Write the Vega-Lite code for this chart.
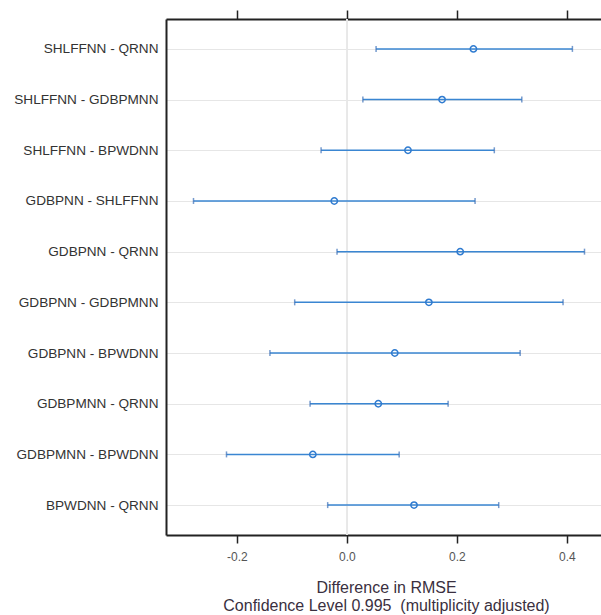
{
  "$schema": "https://vega.github.io/schema/vega-lite/v6.json",
  "autosize": "none",
  "width": 435,
  "height": 516,
  "padding": {"left": 166, "top": 19, "right": 0, "bottom": 80},
  "background": "white",
  "config": {
    "view": {"stroke": null},
    "font": "Liberation Sans",
    "axis": {"labelFont": "Liberation Sans", "titleFont": "Liberation Sans"}
  },
  "data": {
    "values": [
      {"pair": "SHLFFNN - QRNN", "lo": 0.053, "est": 0.230, "hi": 0.410},
      {"pair": "SHLFFNN - GDBPMNN", "lo": 0.029, "est": 0.173, "hi": 0.318},
      {"pair": "SHLFFNN - BPWDNN", "lo": -0.047, "est": 0.111, "hi": 0.268},
      {"pair": "GDBPNN - SHLFFNN", "lo": -0.279, "est": -0.023, "hi": 0.233},
      {"pair": "GDBPNN - QRNN", "lo": -0.018, "est": 0.206, "hi": 0.432},
      {"pair": "GDBPNN - GDBPMNN", "lo": -0.095, "est": 0.149, "hi": 0.393},
      {"pair": "GDBPNN - BPWDNN", "lo": -0.140, "est": 0.087, "hi": 0.315},
      {"pair": "GDBPMNN - QRNN", "lo": -0.067, "est": 0.057, "hi": 0.184},
      {"pair": "GDBPMNN - BPWDNN", "lo": -0.219, "est": -0.062, "hi": 0.095},
      {"pair": "BPWDNN - QRNN", "lo": -0.035, "est": 0.122, "hi": 0.276}
    ]
  },
  "layer": [
    {
      "mark": {"type": "rule", "color": "#e8e8e8", "strokeWidth": 1},
      "encoding": {
        "x": {
          "datum": 0,
          "type": "quantitative",
          "scale": {"domain": [-0.329, 0.462], "nice": false, "zero": false},
          "axis": {
            "orient": "bottom",
            "values": [-0.2, 0, 0.2, 0.4],
            "format": ".1f",
            "labelExpr": "replace(datum.label, '\u2212', '-')",
            "grid": false,
            "domain": true,
            "domainColor": "#222",
            "domainWidth": 2,
            "ticks": true,
            "tickColor": "#222",
            "tickWidth": 1.5,
            "tickSize": 8,
            "labelColor": "#555",
            "labelFontSize": 12,
            "labelPadding": 8,
            "title": ["Difference in RMSE", "Confidence Level 0.995\u00a0 (multiplicity adjusted)"],
            "titleFontSize": 16,
            "titleFontWeight": "normal",
            "titleColor": "#3a3040",
            "titleLineHeight": 18,
            "titlePadding": 17,
            "titleX": 220
          }
        }
      }
    },
    {
      "mark": {"type": "rule", "color": "#3a86d2", "strokeWidth": 1.5},
      "encoding": {
        "y": {
          "field": "pair",
          "type": "ordinal",
          "sort": null,
          "scale": {"type": "point", "padding": 0.59},
          "axis": {
            "title": null,
            "grid": true,
            "gridColor": "#e6e6e6",
            "gridWidth": 1,
            "domain": true,
            "domainColor": "#222",
            "domainWidth": 2,
            "ticks": false,
            "labelColor": "#333",
            "labelFontSize": 13.6,
            "labelPadding": 8
          }
        },
        "x": {
          "field": "lo",
          "type": "quantitative",
          "axis": {
            "orient": "top",
            "values": [-0.2, 0, 0.2, 0.4],
            "grid": false,
            "labels": false,
            "title": null,
            "domain": true,
            "domainColor": "#222",
            "domainWidth": 2,
            "ticks": true,
            "tickColor": "#222",
            "tickWidth": 1.5,
            "tickSize": 9
          }
        },
        "x2": {"field": "hi"}
      }
    },
    {
      "mark": {"type": "tick", "color": "#3a6fb8", "size": 6, "thickness": 1.5, "orient": "vertical"},
      "encoding": {
        "y": {"field": "pair", "type": "ordinal", "sort": null},
        "x": {"field": "lo", "type": "quantitative", "axis": null}
      }
    },
    {
      "mark": {"type": "tick", "color": "#3a6fb8", "size": 6, "thickness": 1.5, "orient": "vertical"},
      "encoding": {
        "y": {"field": "pair", "type": "ordinal", "sort": null},
        "x": {"field": "hi", "type": "quantitative", "axis": null}
      }
    },
    {
      "mark": {"type": "point", "shape": "circle", "filled": false, "color": "#2f7bd0", "strokeWidth": 1.5, "size": 40, "opacity": 1},
      "encoding": {
        "y": {"field": "pair", "type": "ordinal", "sort": null},
        "x": {"field": "est", "type": "quantitative", "axis": null}
      }
    }
  ]
}
